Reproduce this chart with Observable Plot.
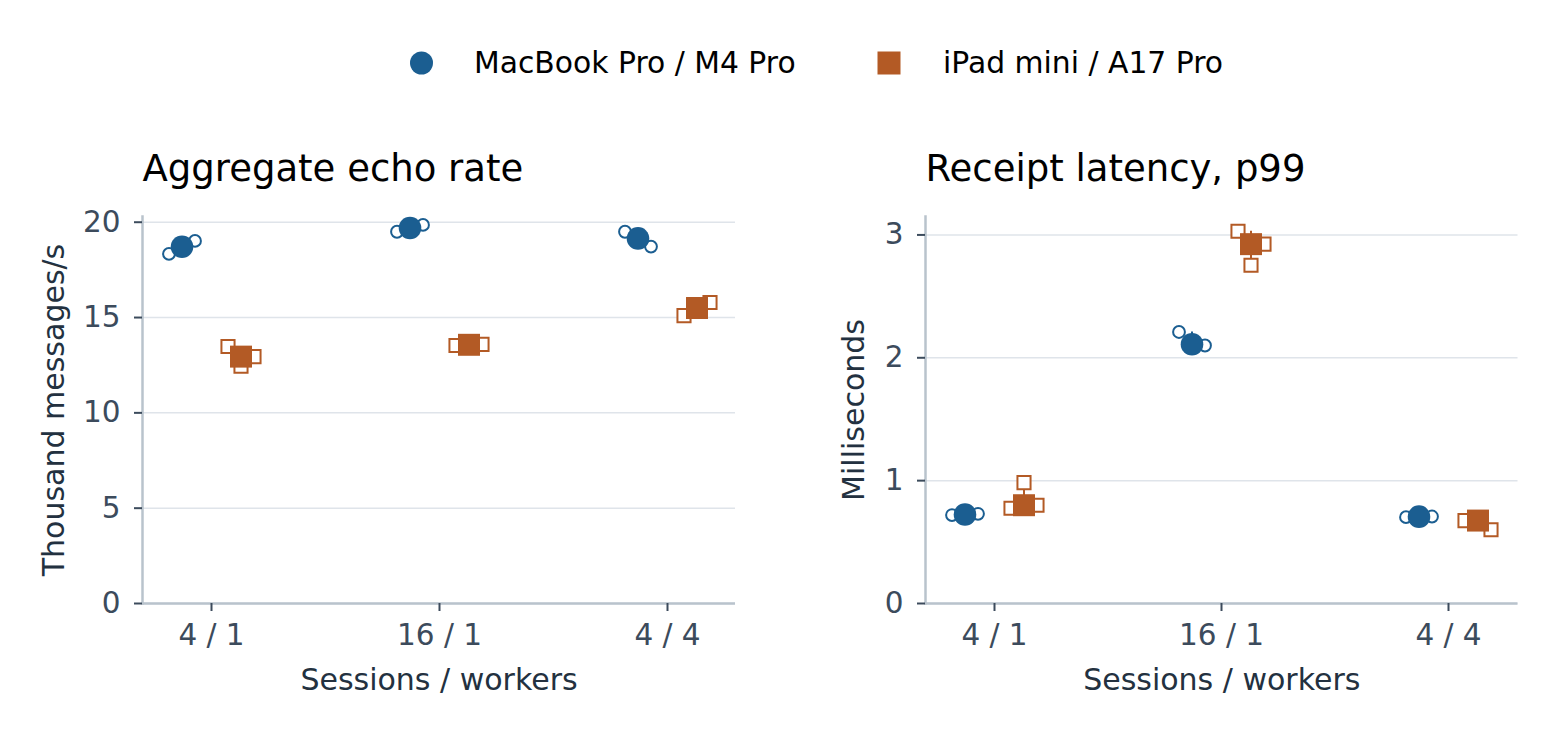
<!DOCTYPE html>
<html><head><meta charset="utf-8">
<script src="https://cdn.jsdelivr.net/npm/d3@7"></script>
<script src="https://cdn.jsdelivr.net/npm/@observablehq/plot@0.6"></script>
<style>
body{margin:0;background:#fff;font-family:"DejaVu Sans",sans-serif;}
#root{position:relative;width:1556px;height:737px;overflow:hidden;background:#fff;}
#root > svg{position:absolute;}
</style></head><body><div id="root"></div>
<script>
// ---- data ----
const groups = ["4 / 1", "16 / 1", "4 / 4"];
const devices = ["MacBook Pro / M4 Pro", "iPad mini / A17 Pro"];
const colors = ["#1b5e91", "#b35a25"];
// three runs per group, in plotted order (left, centre, right)
const rateMac  = [[18.34, 18.71, 19.02], [19.50, 19.70, 19.86], [19.50, 19.15, 18.72]];
const rateIpad = [[13.48, 12.45, 12.95], [13.53, 13.57, 13.59], [15.10, 15.50, 15.79]];
const latMac   = [[0.720, 0.725, 0.730], [2.21, 2.11, 2.10], [0.703, 0.707, 0.708]];
const latIpad  = [[0.775, 0.984, 0.800], [3.03, 2.753, 2.925], [0.675, 0.685, 0.600]];
const rateTicks = [0, 5, 10, 15, 20];
const latTicks = [0, 1, 2, 3];
const titles = ["Aggregate echo rate", "Receipt latency, p99"];
const yLabels = ["Thousand messages/s", "Milliseconds"];
const xLabel = "Sessions / workers";

const AXIS = "#b9c3cc", GRID = "#dfe4ea", TICK = "#3c4b5c", LABEL = "#233140";
const root = document.getElementById("root");

function panel({title, ylabel, mac, ipad, ticks, domain, left, marginLeft, marginRight, labelDx}) {
  const series = [mac, ipad];
  const runs = [], summ = [];
  series.forEach((s, d) => s.forEach((vals, g) => {
    vals.forEach((v, k) => runs.push({group: groups[g], device: d, run: k, value: v}));
    const sorted = [...vals].sort((a, b) => a - b);
    summ.push({group: groups[g], device: d, median: sorted[1], min: sorted[0], max: sorted[2]});
  }));
  const devOffset = [-29.5, 29.5];
  const jitter = [-13, 0, 13];
  const marks = [
    Plot.gridY(ticks, {stroke: GRID, strokeOpacity: 1, strokeWidth: 1.5}),
    Plot.frame({anchor: "left", stroke: AXIS, strokeWidth: 2.5}),
    Plot.ruleY([0], {stroke: AXIS, strokeWidth: 2.5}),
    Plot.axisY(ticks, {tickSize: 8, tickPadding: 14, fontSize: 29.5, strokeWidth: 2, label: null, tickFormat: "d"}),
    Plot.axisX({tickSize: 8, tickPadding: 13, fontSize: 29.5, strokeWidth: 2, label: null}),
  ];
  devices.forEach((_, d) => {
    marks.push(Plot.ruleX(summ.filter(s => s.device === d), {
      x: "group", y1: "min", y2: "max", stroke: colors[d], strokeWidth: 2, dx: devOffset[d]
    }));
  });
  devices.forEach((_, d) => jitter.forEach((j, k) => {
    marks.push(Plot.dot(runs.filter(r => r.device === d && r.run === k), {
      x: "group", y: "value", symbol: d ? "square" : "circle", r: d ? 7.4 : 5.9,
      fill: "white", stroke: colors[d], strokeWidth: 2, dx: devOffset[d] + j
    }));
  }));
  devices.forEach((_, d) => {
    marks.push(Plot.dot(summ.filter(s => s.device === d), {
      x: "group", y: "median", symbol: d ? "square" : "circle", r: d ? 12.4 : 11.3,
      fill: colors[d], stroke: "none", dx: devOffset[d]
    }));
  });
  marks.push(
    Plot.text([title], {frameAnchor: "top-left", textAnchor: "start", lineAnchor: "bottom",
      dy: -36, fontSize: 37, fill: "black"}),
    Plot.text([ylabel], {frameAnchor: "left", rotate: -90, textAnchor: "middle", lineAnchor: "middle",
      dx: labelDx, fontSize: 30, fill: LABEL}),
    Plot.text([xLabel], {frameAnchor: "bottom", lineAnchor: "bottom", dy: 86, fontSize: 30, fill: LABEL})
  );
  const svg = Plot.plot({
    width: 778, height: 607,
    marginTop: 86, marginBottom: 134, marginLeft, marginRight,
    x: {type: "point", domain: groups, padding: 0.30, label: null},
    y: {domain, label: null},
    style: {fontFamily: "DejaVu Sans", fontSize: "29.5px", color: TICK, background: "transparent", overflow: "visible"},
    marks
  });
  svg.style.left = left + "px";
  svg.style.top = "130px";
  root.appendChild(svg);
}

panel({title: titles[0], ylabel: yLabels[0], mac: rateMac, ipad: rateIpad, ticks: rateTicks,
  domain: [0, 20.3], left: 0, marginLeft: 142, marginRight: 43, labelDx: -88});
panel({title: titles[1], ylabel: yLabels[1], mac: latMac, ipad: latIpad, ticks: latTicks,
  domain: [0, 3.15], left: 778, marginLeft: 147, marginRight: 38.5, labelDx: -71});

// ---- legend ----
const leg = d3.select(root).append("svg")
  .attr("width", 1556).attr("height", 120)
  .style("left", "0px").style("top", "0px")
  .style("font-family", "DejaVu Sans").style("font-size", "29.8px");
leg.append("circle").attr("cx", 421.5).attr("cy", 63).attr("r", 11.5).attr("fill", colors[0]);
leg.append("text").attr("x", 474).attr("y", 73).attr("fill", "black").text(devices[0]);
leg.append("rect").attr("x", 877.5).attr("y", 51.5).attr("width", 23).attr("height", 23).attr("fill", colors[1]);
leg.append("text").attr("x", 943).attr("y", 73).attr("fill", "black").text(devices[1]);
</script></body></html>
